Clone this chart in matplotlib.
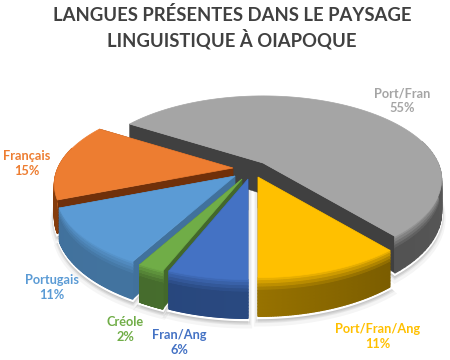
# -*- coding: utf-8 -*-
import numpy as np
import matplotlib
matplotlib.use("Agg")
import matplotlib.pyplot as plt
from matplotlib.collections import PolyCollection
from matplotlib.colors import to_rgb

categories = ["Port/Fran", "Port/Fran/Ang", "Fran/Ang", "Créole", "Portugais", "Français"]
values = [55, 11, 6, 2, 11, 15]

top_colors = ["#A5A5A5", "#FFC000", "#4472C4", "#70AD47", "#5B9BD5", "#ED7D31"]
side_colors = ["#404040", "#6B5100", "#264478", "#43682B", "#41719C", "#843C0C"]
face_colors = ["#404040", "#6B5100", "#203864", "#43682B", "#41719C", "#70300A"]
label_colors = ["#A5A5A5", "#FFC000", "#4472C4", "#70AD47", "#5B9BD5", "#ED7D31"]

# apex of each slice on the page, draw order, label position
apex = [(263, 163), (258, 177), (248, 179), (242, 179), (235, 176), (233, 168)]
draw_order = [0, 5, 4, 3, 2, 1]
label_xy = [(402, 92), (378, 328), (179, 334), (125, 321), (52, 279), (27, 155)]

START = 147.6
RADIUS = 175.0
TILT = 0.46
PERSP = 0.2
DEPTH = 31.0


def project(a, u, v, z=0.0):
    s = 1.0 / (1.0 + PERSP * v)
    x = a[0] + RADIUS * u * s
    y = a[1] - RADIUS * TILT * v * s + DEPTH * z * s
    return np.column_stack([x, y])


def mix(c1, c2, t):
    return tuple((1 - t) * np.array(to_rgb(c1)) + t * np.array(to_rgb(c2)))


fig = plt.figure(figsize=(4.5, 3.6), dpi=100)
ax = fig.add_axes([0, 0, 1, 1])
ax.set_xlim(0, 450)
ax.set_ylim(360, 0)
ax.axis("off")

ends = START - np.cumsum(values) * 3.6
starts = ends + np.array(values) * 3.6

# soft shadow under the pie
for i in range(len(values)):
    th = np.radians(np.linspace(starts[i], ends[i], 60))
    rim = project(apex[i], np.cos(th), np.sin(th), 1.0)
    pts = np.vstack([rim, [apex[i]]])
    for grow, alpha in [(6, 0.04), (4, 0.05), (3, 0.06)]:
        ax.fill(pts[:, 0], pts[:, 1] + grow, color="black", alpha=alpha, lw=grow, zorder=1)
    ax.fill(pts[:, 0], pts[:, 1] + 1.5, color="white", lw=2, zorder=1.5)

z = 2
for i in draw_order:
    th = np.radians(np.linspace(starts[i], ends[i], 90))
    u, v = np.cos(th), np.sin(th)

    # the two flat cut faces
    for k in (0, -1):
        p0 = project(apex[i], np.zeros(2), np.zeros(2), np.array([0, 1]))
        p1 = project(apex[i], np.full(2, u[k]), np.full(2, v[k]), np.array([1, 0]))
        quad = np.vstack([p0, p1])
        ax.fill(quad[:, 0], quad[:, 1], color=face_colors[i], lw=0.3, zorder=z)
        z += 1

    # outer rim, rounded at the top edge
    polys, cols = [], []
    bands = np.linspace(0, 1, 13)
    for b0, b1 in zip(bands[:-1], bands[1:]):
        t = min(b1 / 0.4, 1.0)
        for j in range(len(th) - 1):
            if v[j] > 0.25 and v[j + 1] > 0.25:
                continue
            a_ = project(apex[i], u[j:j + 2], v[j:j + 2], b0)
            b_ = project(apex[i], u[j:j + 2], v[j:j + 2], b1)
            polys.append(np.vstack([a_, b_[::-1]]))
            side = mix(side_colors[i], top_colors[i], 0.22 * (1 + u[j]) / 2 if i != 1 else 0.3 * (1 - u[j]))
            cols.append(mix(top_colors[i], side, t))
    if polys:
        ax.add_collection(PolyCollection(polys, facecolors=cols, edgecolors=cols, linewidths=0.9, zorder=z))
    z += 1

    # top surface
    rim = project(apex[i], u, v)
    pts = np.vstack([[apex[i]], rim])
    ax.fill(pts[:, 0], pts[:, 1], color=top_colors[i], lw=0.5, zorder=z)
    z += 1

    name = "%s\n%d%%" % (categories[i], values[i])
    ax.text(label_xy[i][0], label_xy[i][1] + 8.5, name, color=label_colors[i], ha="center", va="center",
            fontsize=9.2, fontweight="bold", family="Lato", linespacing=1.3, zorder=200)

ax.text(232, 28, "LANGUES PRÉSENTES DANS LE PAYSAGE\nLINGUISTIQUE À OIAPOQUE", color="#404040",
        ha="center", va="center", fontsize=13.3, fontweight="bold", family="Lato", linespacing=1.3, zorder=200)

fig.savefig("out.png", dpi=100)
